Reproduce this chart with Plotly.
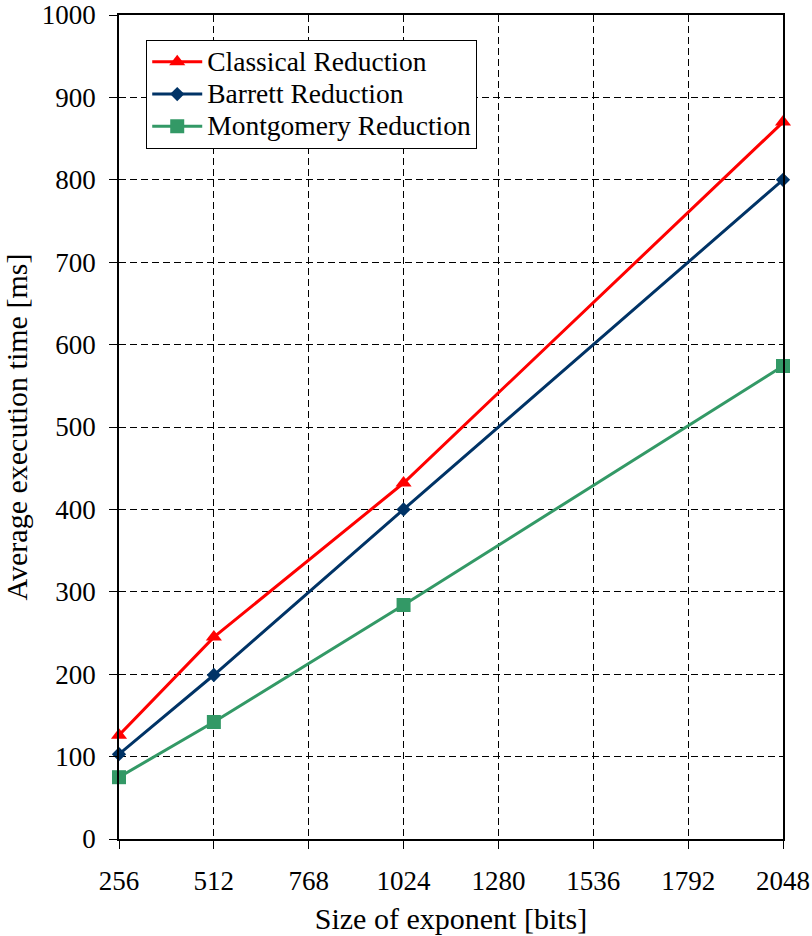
import plotly.graph_objects as go

sizes = [256, 512, 1024, 2048]
classical = [126, 245, 432, 870]
barrett = [103, 199, 400, 800]
montgomery = [75, 142, 284, 574]
x_ticks = [256, 512, 768, 1024, 1280, 1536, 1792, 2048]
y_ticks = [0, 100, 200, 300, 400, 500, 600, 700, 800, 900, 1000]
series_names = ["Classical Reduction", "Barrett Reduction", "Montgomery Reduction"]

FONT = "Liberation Serif, Times New Roman, serif"


def legend_label(text):
    # larger rendered text than the legend's row-spacing font
    return '<span style="font-size:27.5px">' + text + "</span>"


fig = go.Figure()
fig.add_trace(go.Scatter(
    x=sizes, y=classical, name=legend_label(series_names[0]), mode="lines+markers",
    line=dict(color="#FF0000", width=3),
    marker=dict(symbol="triangle-up", size=14, color="#FF0000"),
    cliponaxis=False))
fig.add_trace(go.Scatter(
    x=sizes, y=barrett, name=legend_label(series_names[1]), mode="lines+markers",
    line=dict(color="#003366", width=3),
    marker=dict(symbol="diamond", size=11, color="#003366"),
    cliponaxis=False))
fig.add_trace(go.Scatter(
    x=sizes, y=montgomery, name=legend_label(series_names[2]), mode="lines+markers",
    line=dict(color="#339966", width=3),
    marker=dict(symbol="square", size=14, color="#339966"),
    cliponaxis=False))

fig.update_layout(
    width=812, height=936,
    margin=dict(l=119, r=29, t=15, b=97, autoexpand=False),
    paper_bgcolor="white", plot_bgcolor="white",
    font=dict(family=FONT, size=27, color="black"),
    showlegend=True,
    legend=dict(
        x=0.041, y=0.97, xanchor="left", yanchor="top",
        bgcolor="white", bordercolor="black", borderwidth=1,
        font=dict(family=FONT, size=22.5, color="black"),
        itemwidth=50, tracegroupgap=0,
    ),
)
fig.update_xaxes(
    range=[256, 2048], tickvals=x_ticks, ticktext=[str(v) for v in x_ticks],
    showline=True, linecolor="black", linewidth=1.5, mirror=True,
    ticks="outside", ticklen=8, tickcolor="black", tickwidth=1,
    showgrid=True, gridcolor="black", gridwidth=1, griddash="7px,4px",
    zeroline=False, ticklabelstandoff=9, automargin=False,
    tickfont=dict(family=FONT, size=27, color="black"),
    title=dict(text="Size of exponent [bits]", font=dict(family=FONT, size=30, color="black"), standoff=13),
)
fig.update_yaxes(
    range=[0, 1000], tickvals=y_ticks, ticktext=[str(v) for v in y_ticks],
    showline=True, linecolor="black", linewidth=1.5, mirror=True,
    ticks="outside", ticklen=8, tickcolor="black", tickwidth=1,
    showgrid=True, gridcolor="black", gridwidth=1, griddash="7px,4px",
    zeroline=False, ticklabelstandoff=8, automargin=False,
    tickfont=dict(family=FONT, size=27, color="black"),
    title=dict(text="Average execution time [ms]", font=dict(family=FONT, size=30, color="black"), standoff=6),
)

fig.write_html(
    "out.html",
    config={"displayModeBar": False},
    post_script="document.body.style.margin='0px'; document.body.style.padding='0px';",
)
